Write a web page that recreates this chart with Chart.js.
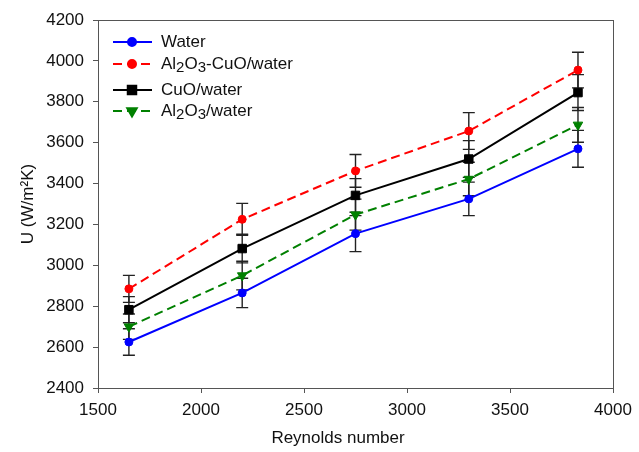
<!DOCTYPE html>
<html>
<head>
<meta charset="utf-8">
<script src="https://cdn.jsdelivr.net/npm/chart.js@4"></script>
<style>
  html, body { margin: 0; padding: 0; background: #fff; }
</style>
</head>
<body>
<canvas id="chart" width="639" height="452"></canvas>
<script>
// Reynolds number on x, overall heat transfer coefficient U on y
const reynolds = [1650, 2200, 2750, 3300, 3830]

const water = [2625, 2865, 3155, 3325, 3570]
const hybrid = [2885, 3225, 3462, 3657, 3955]
const cuo = [2783, 3082, 3342, 3520, 3845]
const alumina = [2700, 2950, 3248, 3422, 3687]

// +/- error on each point
const waterErr = [65, 72, 88, 82, 90]
const hybridErr = [66, 78, 80, 90, 87]
const cuoErr = [64, 70, 82, 90, 88]
const aluminaErr = [62, 70, 76, 82, 85]

const xTicks = [1500, 2000, 2500, 3000, 3500, 4000]
const yTicks = [2400, 2600, 2800, 3000, 3200, 3400, 3600, 3800, 4000, 4200]

const FONT = '"Liberation Sans", Arial, sans-serif'

const toPoints = vals => vals.map((v, i) => ({ x: reynolds[i], y: v }))

// error bars, drawn under the lines and markers
const errorBars = {
  id: 'errorBars',
  beforeDatasetsDraw(chart) {
    const { ctx } = chart
    const y = chart.scales.y
    ctx.save()
    ctx.strokeStyle = '#222'
    ctx.lineWidth = 1.4
    chart.data.datasets.forEach((ds, di) => {
      const meta = chart.getDatasetMeta(di)
      meta.data.forEach((pt, i) => {
        const v = ds.data[i].y
        const e = ds.errors[i]
        const top = y.getPixelForValue(v + e)
        const bot = y.getPixelForValue(v - e)
        ctx.beginPath()
        ctx.moveTo(pt.x, top)
        ctx.lineTo(pt.x, bot)
        ctx.moveTo(pt.x - 6, top)
        ctx.lineTo(pt.x + 6, top)
        ctx.moveTo(pt.x - 6, bot)
        ctx.lineTo(pt.x + 6, bot)
        ctx.stroke()
      })
    })
    ctx.restore()
  }
}

// box around the plot area and the x axis title
const frame = {
  id: 'frame',
  afterDraw(chart) {
    const { ctx, chartArea: a } = chart
    ctx.save()
    ctx.strokeStyle = '#555'
    ctx.lineWidth = 1
    ctx.strokeRect(Math.round(a.left) + 0.5, Math.round(a.top) + 0.5, Math.round(a.right - a.left), Math.round(a.bottom - a.top))
    ctx.fillStyle = '#111'
    ctx.font = '17px ' + FONT
    ctx.textAlign = 'center'
    ctx.textBaseline = 'middle'
    ctx.fillText('Reynolds number', 338, 438)
    ctx.restore()
  }
}

// legend with lowered digits for the chemical formulas
const formulaLegend = {
  id: 'formulaLegend',
  afterDraw(chart) {
    const { ctx } = chart
    const rows = [42, 64, 90, 111]
    ctx.save()
    chart.data.datasets.forEach((ds, i) => {
      const yy = rows[i]
      ctx.strokeStyle = ds.borderColor
      ctx.lineWidth = 2
      ctx.setLineDash(ds.borderDash || [])
      ctx.beginPath()
      ctx.moveTo(113, yy)
      ctx.lineTo(152, yy)
      ctx.stroke()
      ctx.setLineDash([])
      ctx.fillStyle = ds.pointBackgroundColor
      ctx.strokeStyle = ds.pointBackgroundColor
      Chart.helpers.drawPoint(ctx, {
        pointStyle: ds.pointStyle,
        radius: ds.pointRadius,
        rotation: ds.pointRotation || 0,
        borderWidth: 1
      }, 132, yy)

      let x = 161
      ctx.fillStyle = '#111'
      ctx.textBaseline = 'middle'
      const parts = ds.label.split(/(\d)/)
      parts.forEach(p => {
        if (!p) return
        if (/^\d$/.test(p)) {
          ctx.font = '15px ' + FONT
          ctx.fillText(p, x, yy + 4)
        } else {
          ctx.font = '17px ' + FONT
          ctx.fillText(p, x, yy)
        }
        x += ctx.measureText(p).width
      })
    })
    ctx.restore()
  }
}

const dashed = [9, 5]

new Chart(document.getElementById('chart'), {
  type: 'line',
  data: {
    datasets: [
      {
        label: 'Water',
        data: toPoints(water),
        errors: waterErr,
        borderColor: '#0000ff',
        pointBackgroundColor: '#0000ff',
        pointBorderColor: '#0000ff',
        pointStyle: 'circle',
        pointRadius: 4
      },
      {
        label: 'Al2O3-CuO/water',
        data: toPoints(hybrid),
        errors: hybridErr,
        borderColor: '#ff0000',
        borderDash: dashed,
        pointBackgroundColor: '#ff0000',
        pointBorderColor: '#ff0000',
        pointStyle: 'circle',
        pointRadius: 4
      },
      {
        label: 'CuO/water',
        data: toPoints(cuo),
        errors: cuoErr,
        borderColor: '#000000',
        pointBackgroundColor: '#000000',
        pointBorderColor: '#000000',
        pointStyle: 'rect',
        pointRadius: 6
      },
      {
        label: 'Al2O3/water',
        data: toPoints(alumina),
        errors: aluminaErr,
        borderColor: '#008000',
        borderDash: dashed,
        pointBackgroundColor: '#008000',
        pointBorderColor: '#008000',
        pointStyle: 'triangle',
        pointRotation: 180,
        pointRadius: 5.5
      }
    ]
  },
  options: {
    responsive: false,
    animation: false,
    devicePixelRatio: 1,
    elements: {
      line: { borderWidth: 2, tension: 0 },
      point: { borderWidth: 1 }
    },
    layout: { padding: { top: 20, right: 26, left: 0, bottom: 0 } },
    plugins: {
      legend: { display: false },
      tooltip: { enabled: false }
    },
    scales: {
      x: {
        type: 'linear',
        min: xTicks[0],
        max: xTicks[xTicks.length - 1],
        afterBuildTicks: s => { s.ticks = xTicks.map(v => ({ value: v })) },
        afterFit: s => { s.height = 64 },
        ticks: {
          color: '#111',
          font: { family: FONT, size: 17 },
          padding: 7,
          maxRotation: 0,
          callback: v => String(v)
        },
        grid: { drawOnChartArea: false, tickLength: 5, color: '#555' },
        border: { color: '#555' }
      },
      y: {
        min: yTicks[0],
        max: yTicks[yTicks.length - 1],
        afterBuildTicks: s => { s.ticks = yTicks.map(v => ({ value: v })) },
        afterFit: s => { s.width = 98 },
        ticks: {
          color: '#111',
          font: { family: FONT, size: 17 },
          padding: 9,
          callback: v => String(v)
        },
        grid: { drawOnChartArea: false, tickLength: 5, color: '#555' },
        border: { color: '#555' },
        title: {
          display: true,
          text: 'U (W/m²K)',
          color: '#111',
          font: { family: FONT, size: 17 },
          padding: { top: 18 }
        }
      }
    }
  },
  plugins: [errorBars, frame, formulaLegend]
})
</script>
</body>
</html>
